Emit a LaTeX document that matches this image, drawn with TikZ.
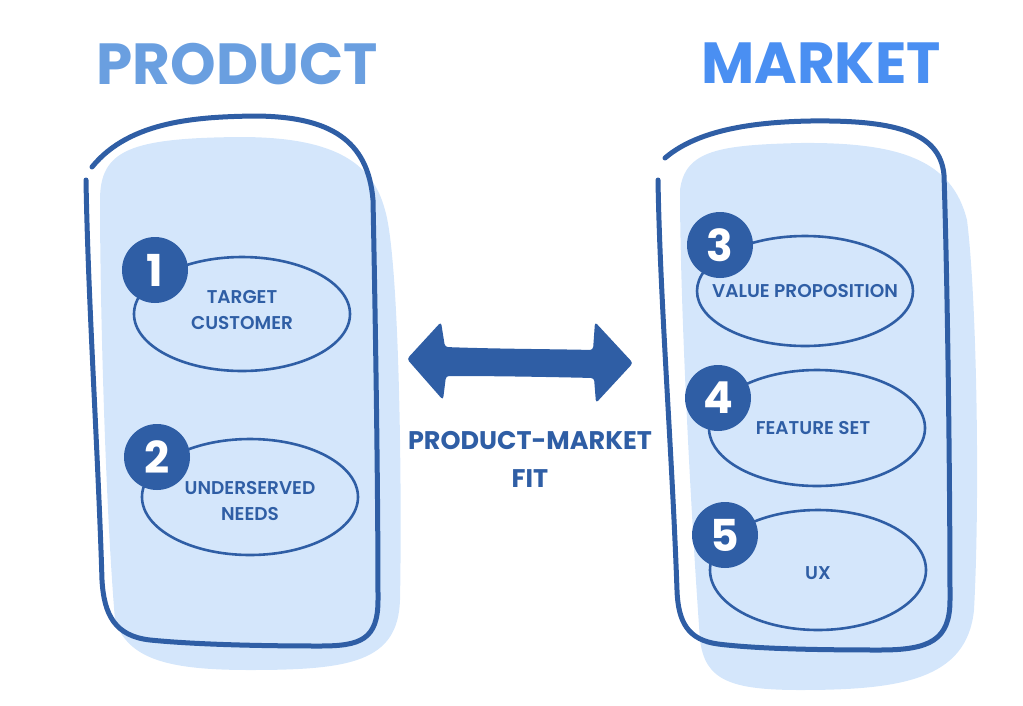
\documentclass[tikz,border=0pt]{standalone}
\usepackage{fontspec}
\setmainfont{Poppins}
\newfontfamily\labelfont{Poppins SemiBold}
\usetikzlibrary{positioning,shapes.geometric}

\definecolor{prodblue}{HTML}{6A9FE0}
\definecolor{mktblue}{HTML}{4A8FF2}
\definecolor{inkblue}{HTML}{2F5EA5}
\definecolor{paleblue}{HTML}{D4E6FB}

\tikzset{
  outline/.style={draw=inkblue, line width=5pt, line cap=round},
  blob/.style={fill=paleblue},
  idea/.style={ellipse, draw=inkblue, line width=2.6pt, inner sep=0pt,
    minimum width=216pt},
  ideatext/.style={text=inkblue, font=\labelfont\fontsize{18.5}{26.5}\selectfont, align=center},
  numdot/.style={circle, fill=inkblue, minimum size=66pt, inner sep=0pt,
    text=white, font=\bfseries\fontsize{44}{44}\selectfont},
  heading/.style={font=\bfseries\fontsize{58}{58}\selectfont},
}

\begin{document}
\begin{tikzpicture}[x=1pt, y=-1pt]
	\useasboundingbox (0,0) rectangle (1023,705);
	% 1. 两块浅蓝底色（略微错开，模拟手绘感）
	\fill[blob] (100,200) .. controls (100,150) and (130,138) .. (240,137)
		.. controls (330,137) and (372,160) .. (385,210)
		.. controls (400,260) and (402,500) .. (400,600)
		.. controls (398,662) and (350,670) .. (250,670)
		.. controls (170,670) and (128,660) .. (115,620)
		.. controls (105,500) and (100,300) .. (100,200) -- cycle;
	\fill[blob] (680,190) .. controls (685,150) and (720,145) .. (800,143)
		.. controls (900,142) and (952,160) .. (967,220)
		.. controls (977,300) and (980,500) .. (974,610)
		.. controls (967,680) and (900,690) .. (800,690)
		.. controls (730,690) and (705,680) .. (700,640)
		.. controls (690,500) and (680,300) .. (680,190) -- cycle;
	
	% 2. 手绘外框
	\draw[outline] (92,167) .. controls (130,120) and (200,117) .. (253,116)
		.. controls (330,116) and (368,140) .. (373,200)
		.. controls (376,350) and (378,500) .. (378,600)
		.. controls (378,640) and (360,646) .. (320,646)
		.. controls (250,646) and (190,644) .. (150,640)
		.. controls (115,636) and (104,615) .. (102,580)
		.. controls (98,450) and (88,300) .. (86,180);
	\draw[outline] (665,158) .. controls (700,128) and (760,122) .. (810,121)
		.. controls (890,120) and (940,130) .. (944,175)
		.. controls (948,300) and (950,500) .. (950,600)
		.. controls (950,640) and (930,650) .. (880,650)
		.. controls (800,650) and (750,648) .. (718,644)
		.. controls (688,640) and (678,622) .. (677,590)
		.. controls (672,450) and (660,300) .. (658,180);
	
	% 3. 标题
	\node[heading, text=prodblue] (product) at (237,64) {PRODUCT};
	\node[heading, text=mktblue] (market) at (821,63) {MARKET};
	
	% 4. 椭圆（左侧）
	\node[idea, minimum height=114pt] (e1) at (242,314) {};
	\node[idea, minimum height=116pt] (e2) at (250,497) {};
	% 右侧
	\node[idea, minimum height=110pt] (e3) at (805,291) {};
	\node[idea, minimum height=116pt] (e4) at (817,428) {};
	\node[idea, minimum height=120pt] (e5) at (818,570) {};
	% 椭圆里的文字
	\node[ideatext, yshift=4pt] (t1) at (e1) {TARGET\\CUSTOMER};
	\node[ideatext, yshift=-4pt] (t2) at (e2) {UNDERSERVED\\NEEDS};
	\node[ideatext] (t3) at (e3) {VALUE PROPOSITION};
	\node[ideatext, xshift=-4pt] (t4) at (e4) {FEATURE SET};
	\node[ideatext, yshift=-3pt] (t5) at (e5) {UX};
	
	% 5. 编号圆点，相对椭圆放置（on grid 要写在前面）
	\node[numdot, on grid, above left=44pt and 87pt of e1] (n1) {1};
	\node[numdot, on grid, above left=40pt and 93pt of e2] (n2) {2};
	\node[numdot, on grid, above left=46pt and 85pt of e3] (n3) {3};
	\node[numdot, on grid, above left=30pt and 99pt of e4] (n4) {4};
	\node[numdot, on grid, above left=35pt and 93pt of e5] (n5) {5};
	
	% 6. 中间的双向箭头和文字
	\fill[inkblue, rounded corners=3pt] (407,359) -- (441,322) -- (445,347)
		.. controls (500,349) and (550,349) .. (593,350) -- (595,322) -- (633,363)
		-- (596,403) -- (594,378) .. controls (550,377) and (500,376) .. (446,376)
		-- (443,400) -- cycle;
	\node[text=inkblue, font=\bfseries\fontsize{25.5}{38}\selectfont,
		align=center] (pmf) at (530,459) {PRODUCT-MARKET\\FIT};
\end{tikzpicture}
\end{document}
